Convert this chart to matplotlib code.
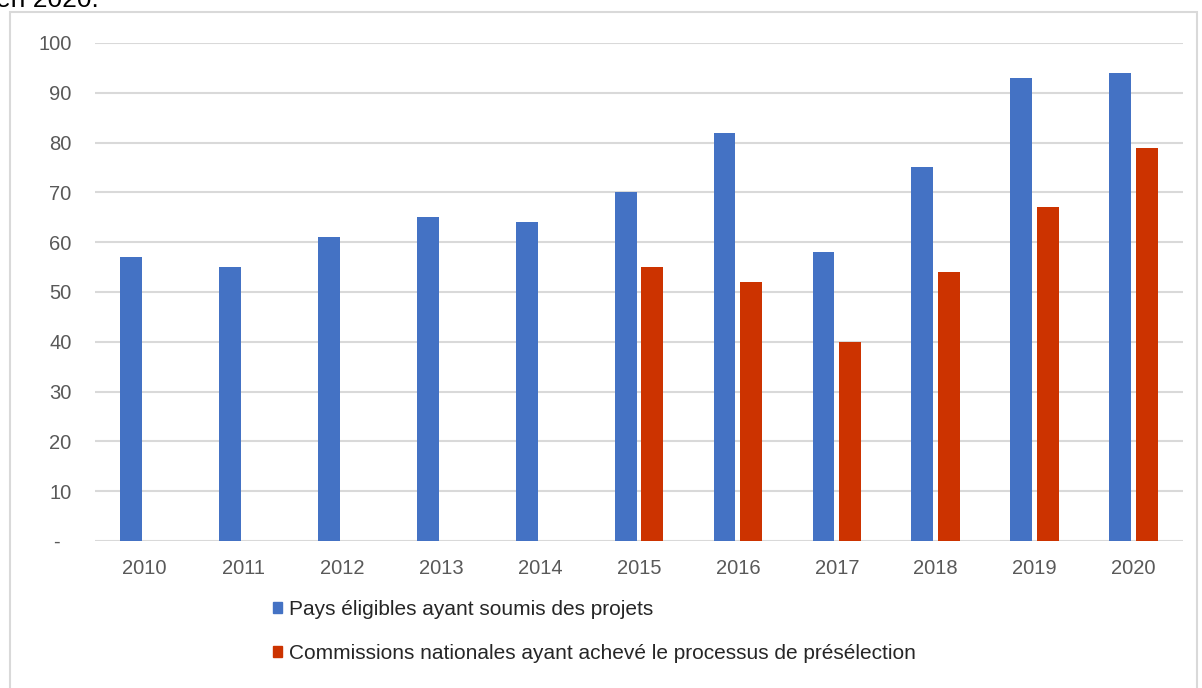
import numpy as np
import matplotlib.pyplot as plt
from matplotlib.patches import Patch, Rectangle

# --- DATA ---
years = ['2010', '2011', '2012', '2013', '2014', '2015', '2016', '2017', '2018', '2019', '2020']
pays = [57, 55, 61, 65, 64, 70, 82, 58, 75, 93, 94]
commissions = [None, None, None, None, None, 55, 52, 40, 54, 67, 79]
ytick_labels = ['-  ', '10', '20', '30', '40', '50', '60', '70', '80', '90', '100']
label_pays = 'Pays éligibles ayant soumis des projets'
label_comm = 'Commissions nationales ayant achevé le processus de présélection'

BLUE = '#4472C4'
RED = '#CC3300'
GRID = '#D9D9D9'
TXT = '#595959'

plt.rcParams['font.family'] = ['Liberation Sans', 'DejaVu Sans']

fig = plt.figure(figsize=(12.02, 6.88), dpi=100)
W, H = 1202, 688

# light frame round the chart (screenshot border)
fig.patches.append(Rectangle((10 / W, -0.05), (1197 - 10) / W, (H - 12) / H + 0.05,
                             transform=fig.transFigure, fill=False,
                             edgecolor=GRID, linewidth=1.5))

# cut-off caption line above the chart
fig.text(-0.003, (H - 7) / H, 'en 2020.', fontsize=19, color='black',
         ha='left', va='baseline')

ax = fig.add_axes([95 / W, 1 - 541 / H, (1183 - 95) / W, (541 - 43) / H])

x = np.arange(len(years))
w = 0.22
off = 0.135
ax.bar(x - off, pays, width=w, color=BLUE, zorder=3)
cx = [xi for xi, v in zip(x, commissions) if v is not None]
cv = [v for v in commissions if v is not None]
ax.bar(np.array(cx) + off, cv, width=w, color=RED, zorder=3)

ax.set_xlim(-0.5, len(years) - 0.5)
ax.set_ylim(0, 100)
ax.set_yticks(np.arange(0, 101, 10))
ax.set_yticklabels(ytick_labels)
ax.set_xticks(x)
ax.set_xticklabels(years)
ax.tick_params(axis='both', length=0, colors=TXT, labelsize=14.5)
ax.tick_params(axis='y', pad=17)
ax.tick_params(axis='x', pad=13)
ax.grid(axis='y', color=GRID, linewidth=1.5, zorder=0)
for s in ax.spines.values():
    s.set_visible(False)

handles = [Patch(color=BLUE), Patch(color=RED)]
fig.legend(handles, [label_pays, label_comm], loc='upper left',
           bbox_to_anchor=(254 / W, 1 - 581 / H), frameon=False,
           handlelength=0.45, handleheight=0.45, handletextpad=0.35,
           labelspacing=1.2, fontsize=15, labelcolor='#262626')

fig.savefig('out.png', dpi=100)
